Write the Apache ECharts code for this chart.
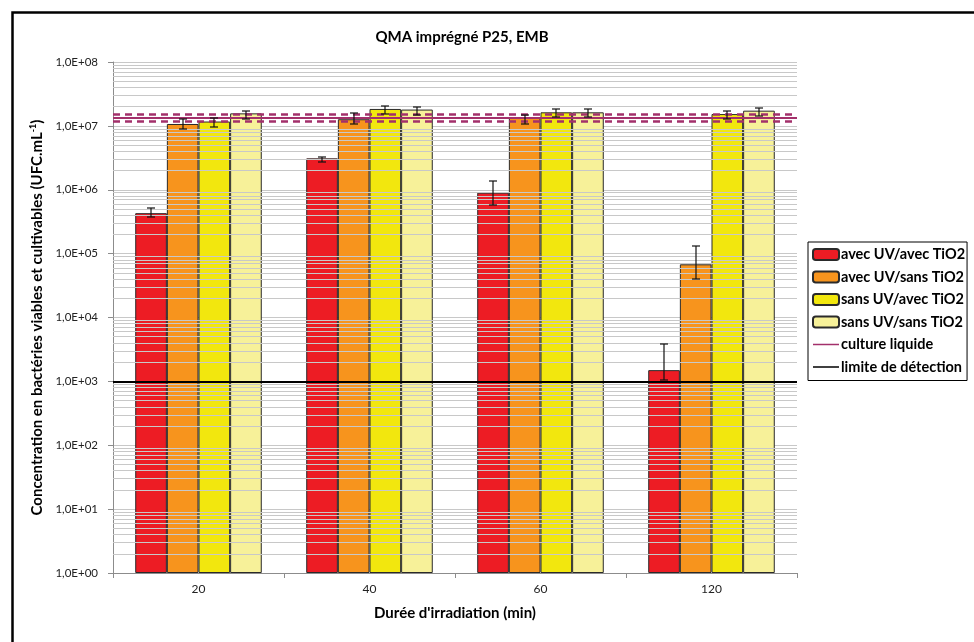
<!DOCTYPE html>
<html>
<head>
<meta charset="utf-8">
<script src="https://cdn.jsdelivr.net/npm/echarts@6/dist/echarts.min.js"></script>
<style>html,body{margin:0;padding:0;background:#fff}#c{width:974px;height:642px}</style>
</head>
<body>
<div id="c"></div>
<script>
var categories = ['20', '40', '60', '120'];
var seriesNames = ['avec UV/avec TiO2', 'avec UV/sans TiO2', 'sans UV/avec TiO2', 'sans UV/sans TiO2'];
var avecUVavecTiO2 = [4.3e5, 3.1e6, 9.0e5, 1.5e3];
var avecUVsansTiO2 = [1.07e7, 1.27e7, 1.33e7, 6.8e4];
var sansUVavecTiO2 = [1.17e7, 1.84e7, 1.63e7, 1.53e7];
var sansUVsansTiO2 = [1.57e7, 1.80e7, 1.63e7, 1.73e7];
var errLow1 = [3.8e5, 2.7e6, 5.8e5, 1.05e3];
var errHigh1 = [5.1e5, 3.3e6, 1.35e6, 3.8e3];
var errLow2 = [8.9e6, 1.07e7, 1.07e7, 4.0e4];
var errHigh2 = [1.28e7, 1.57e7, 1.48e7, 1.3e5];
var errLow3 = [9.6e6, 1.55e7, 1.38e7, 1.28e7];
var errHigh3 = [1.33e7, 2.07e7, 1.86e7, 1.73e7];
var errLow4 = [1.28e7, 1.48e7, 1.38e7, 1.43e7];
var errHigh4 = [1.71e7, 2.0e7, 1.86e7, 1.93e7];
var cultureLiquide = 1.32e7;
var cultureLiquideLow = 1.19e7;
var cultureLiquideHigh = 1.52e7;
var limiteDetection = 1e3;

var colors = ['#ED1C24', '#F7941D', '#F2E70E', '#F7F199'];
var values = [avecUVavecTiO2, avecUVsansTiO2, sansUVavecTiO2, sansUVsansTiO2];
var lows = [errLow1, errLow2, errLow3, errLow4];
var highs = [errHigh1, errHigh2, errHigh3, errHigh4];
var GAP = 0.26;
var FONT = 'Lato, "Open Sans", sans-serif';

var minorLines = [];
for (var k = 0; k < 8; k++) {
  for (var d = 2; d <= 9; d++) minorLines.push({ yAxis: d * Math.pow(10, k) });
}

var series = [];
series.push({
  name: 'grid', type: 'line', data: [], z: 0, silent: true,
  markLine: { silent: true, symbol: 'none', label: { show: false },
    lineStyle: { color: '#c8c8c8', width: 1, type: 'solid' }, data: minorLines, animation: false }
});
values.forEach(function (arr, i) {
  series.push({
    name: seriesNames[i], type: 'bar', data: arr, barGap: 0, barCategoryGap: (GAP * 100) + '%',
    itemStyle: { color: colors[i], borderColor: '#2a2a2a', borderWidth: 1 }, z: 2
  });
});
values.forEach(function (arr, i) {
  var d = categories.map(function (c, j) { return [j, lows[i][j], highs[i][j]]; });
  series.push({
    name: 'err' + i, type: 'custom', z: 6, silent: true, data: d,
    renderItem: function (params, api) {
      var j = api.value(0);
      var lo = api.coord([j, api.value(1)]);
      var hi = api.coord([j, api.value(2)]);
      var band = api.coord([1, 10])[0] - api.coord([0, 10])[0];
      var bw = band * (1 - GAP) / 4;
      var x = Math.round(lo[0] + (i - 1.5) * bw);
      var y1 = Math.round(lo[1]), y2 = Math.round(hi[1]);
      var cap = 4;
      var st = { fill: '#111', stroke: null };
      return { type: 'group', children: [
        { type: 'rect', shape: { x: x - 0.6, y: y2, width: 1.2, height: y1 - y2 }, style: st },
        { type: 'rect', shape: { x: x - cap, y: y1 - 0.6, width: cap * 2, height: 1.2 }, style: st },
        { type: 'rect', shape: { x: x - cap, y: y2 - 0.6, width: cap * 2, height: 1.2 }, style: st }
      ] };
    }
  });
});
series.push({
  name: 'culture liquide', type: 'line', data: [], symbol: 'none', showSymbol: false, z: 5,
  lineStyle: { color: '#A3306B', width: 2 }, itemStyle: { color: '#A3306B' },
  markLine: { silent: true, symbol: 'none', label: { show: false }, animation: false,
    data: [
      { yAxis: cultureLiquide, lineStyle: { color: '#A3306B', width: 2, type: 'solid' } },
      { yAxis: cultureLiquideLow, lineStyle: { color: '#A3306B', width: 2.5, type: [7, 5] } },
      { yAxis: cultureLiquideHigh, lineStyle: { color: '#A3306B', width: 2.5, type: [7, 5] } }
    ] }
});
series.push({
  name: 'limite de détection', type: 'line', data: [], symbol: 'none', showSymbol: false, z: 5,
  lineStyle: { color: '#000', width: 2 }, itemStyle: { color: '#000' },
  markLine: { silent: true, symbol: 'none', label: { show: false }, animation: false,
    data: [{ yAxis: limiteDetection, lineStyle: { color: '#000', width: 2, type: 'solid' } }] }
});

var legendData = seriesNames.map(function (n) { return { name: n }; }).concat([
  { name: 'culture liquide', itemStyle: { opacity: 0 }, lineStyle: { color: '#A3306B', width: 1.5 } },
  { name: 'limite de détection', itemStyle: { opacity: 0 }, lineStyle: { color: '#000', width: 1.5 } }
]);

var chart = echarts.init(document.getElementById('c'));
chart.setOption({
  animation: false,
  backgroundColor: '#fff',
  textStyle: { fontFamily: FONT },
  graphic: [{ type: 'rect', left: 10, top: 10, z: -1, shape: { x: 0, y: 0, width: 1000, height: 700 },
    style: { fill: 'none', stroke: '#000', lineWidth: 2.5 } }],
  title: { text: 'QMA imprégné P25, EMB', left: 457, textAlign: 'center', top: 25,
    textStyle: { fontFamily: FONT, fontWeight: 'bold', fontSize: 15, color: '#000' } },
  legend: {
    data: legendData,
    orient: 'vertical', left: 808, top: 242,
    borderColor: '#000', borderWidth: 1, padding: [5, 2, 6, 4],
    itemWidth: 26, itemHeight: 11, itemGap: 7.5,
    textStyle: { fontFamily: FONT, fontWeight: 'bold', fontSize: 14.5, color: '#000', padding: [0, 0, 0, -3] }
  },
  grid: { left: 113, right: 177, top: 62, bottom: 69 },
  xAxis: {
    type: 'category', data: categories,
    name: "Durée d'irradiation (min)", nameLocation: 'middle', nameGap: 33,
    nameTextStyle: { fontFamily: FONT, fontWeight: 'bold', fontSize: 15, color: '#000' },
    axisLine: { lineStyle: { color: '#8c8c8c' } },
    axisTick: { show: true, length: 5, lineStyle: { color: '#8c8c8c' } },
    axisLabel: { fontFamily: FONT, fontSize: 12, color: '#222', margin: 10 }
  },
  yAxis: {
    type: 'log', logBase: 10, min: 1, max: 1e8, splitNumber: 8,
    name: 'Concentration en bactéries viables et cultivables (UFC.mL{sup|-1})',
    nameLocation: 'middle', nameGap: 68, nameRotate: 90,
    nameTextStyle: { fontFamily: FONT, fontWeight: 'bold', fontSize: 15, color: '#000',
      rich: { sup: { fontFamily: FONT, fontWeight: 'bold', fontSize: 9, color: '#000', verticalAlign: 'top', padding: [0, 0, 7, 0] } } },
    axisLine: { show: true, lineStyle: { color: '#8c8c8c' } },
    axisTick: { show: true, length: 5, lineStyle: { color: '#8c8c8c' } },
    splitLine: { show: true, lineStyle: { color: '#c8c8c8', width: 1 } },
    axisLabel: { fontFamily: FONT, fontSize: 11.5, color: '#222', margin: 15,
      formatter: function (v) { var e = Math.round(Math.log10(v)); return '1,0E+' + (e < 10 ? '0' : '') + e; } }
  },
  series: series
});
</script>
</body>
</html>
